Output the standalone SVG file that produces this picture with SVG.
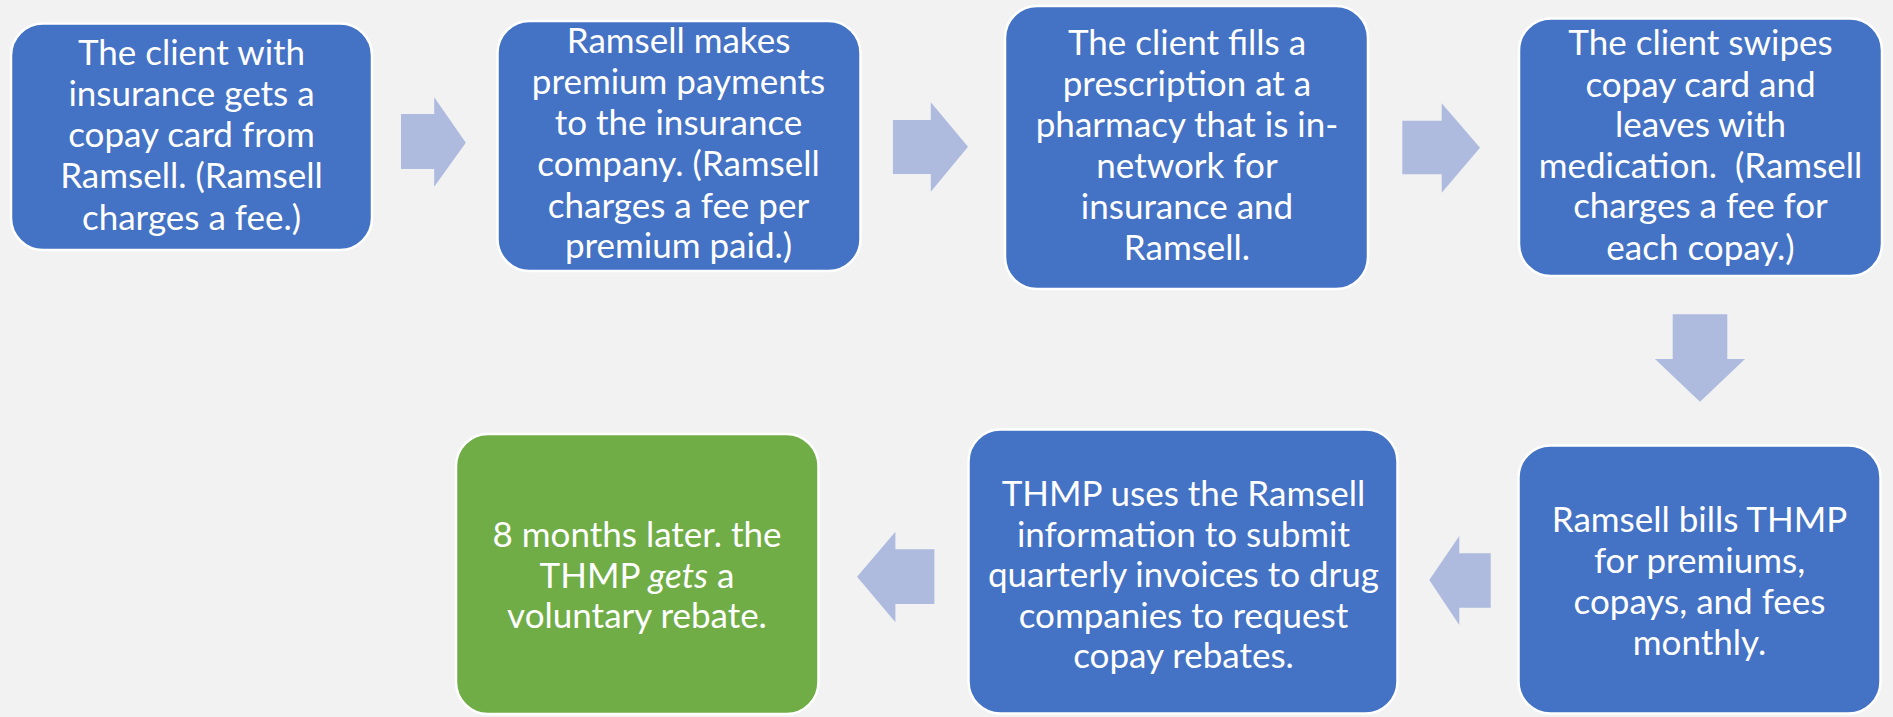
<svg xmlns="http://www.w3.org/2000/svg" width="1893" height="717" viewBox="0 0 1893 717">
<style>
.box{fill:#4472C4;stroke:#FFFFFF;stroke-width:2.5}
.green{fill:#70AD47;stroke:#FFFFFF;stroke-width:2.5}
.arrow{fill:#AEBBDE;stroke:none}
text{font-family:Lato,"Noto Sans",sans-serif;font-size:35px;fill:#FFFFFF;text-anchor:middle;white-space:pre}
</style>
<rect x="0" y="0" width="1893" height="717" fill="#F2F2F2"/>
<g id="connectors">
<polygon class="arrow" points="401,114 434.2,114 434.2,97.3 465.8,142.7 434.2,186.7 434.2,169 401,169"/>
<polygon class="arrow" points="892.9,120 930.8,120 930.8,102.3 968,146.7 930.8,191.7 930.8,174 892.9,174"/>
<polygon class="arrow" points="1402.3,120.7 1441.7,120.7 1441.7,103.3 1480,147.7 1441.7,192.7 1441.7,174.3 1402.3,174.3"/>
<polygon class="arrow" points="1672.7,314.3 1727.3,314.3 1727.3,359 1745,359 1700,401.7 1655,359 1672.7,359"/>
<polygon class="arrow" points="1490.7,553.3 1459.3,553.3 1459.3,536 1429.3,580 1459.3,625 1459.3,607.7 1490.7,607.7"/>
<polygon class="arrow" points="934.4,549.3 895.4,549.3 895.4,531.7 857.1,576.7 895.4,622.3 895.4,604 934.4,604"/>
</g>
<g id="node1">
<rect class="box" x="11" y="23.5" width="361" height="226.5" rx="32"/>
<text x="191.5" y="65">The client with</text>
<text x="191.5" y="106">insurance gets a</text>
<text x="191.5" y="147">copay card from</text>
<text x="191.5" y="188">Ramsell. (Ramsell</text>
<text x="191.5" y="230">charges a fee.)</text>
</g>
<g id="node2">
<rect class="box" x="497.5" y="21" width="363" height="250" rx="32"/>
<text x="678.5" y="53.3">Ramsell makes</text>
<text x="678.5" y="94.3">premium payments</text>
<text x="678.5" y="135">to the insurance</text>
<text x="678.5" y="176">company. (Ramsell</text>
<text x="678.5" y="218.3">charges a fee per</text>
<text x="678.5" y="258.3">premium paid.)</text>
</g>
<g id="node3">
<rect class="box" x="1005" y="6" width="363" height="283" rx="32"/>
<text x="1187" y="55">The client fills a</text>
<text x="1187" y="95.7">prescription at a</text>
<text x="1187" y="136.7">pharmacy that is in-</text>
<text x="1187" y="178.3">network for</text>
<text x="1187" y="219.3">insurance and</text>
<text x="1187" y="260">Ramsell.</text>
</g>
<g id="node4">
<rect class="box" x="1519" y="18.5" width="363" height="257.5" rx="32"/>
<text x="1700.5" y="55">The client swipes</text>
<text x="1700.5" y="96.7">copay card and</text>
<text x="1700.5" y="137">leaves with</text>
<text x="1700.5" y="178">medication.  (Ramsell</text>
<text x="1700.5" y="218">charges a fee for</text>
<text x="1700.5" y="260">each copay.)</text>
</g>
<g id="node5">
<rect class="box" x="1518.5" y="445.5" width="362" height="268" rx="32"/>
<text x="1699.5" y="532.3">Ramsell bills THMP</text>
<text x="1699.5" y="573.3">for premiums,</text>
<text x="1699.5" y="614">copays, and fees</text>
<text x="1699.5" y="655">monthly.</text>
</g>
<g id="node6">
<rect class="box" x="968.5" y="429.5" width="429" height="284" rx="32"/>
<text x="1183.5" y="506">THMP uses the Ramsell</text>
<text x="1183.5" y="546.7">information to submit</text>
<text x="1183.5" y="586.7">quarterly invoices to drug</text>
<text x="1183.5" y="628">companies to request</text>
<text x="1183.5" y="668">copay rebates.</text>
</g>
<g id="node7">
<rect class="green" x="456" y="434" width="362.5" height="280" rx="32"/>
<text x="637" y="546.7">8 months later. the</text>
<text x="637" y="588.3">THMP <tspan font-style="italic">gets</tspan> a</text>
<text x="637" y="628.3">voluntary rebate.</text>
</g>
</svg>
